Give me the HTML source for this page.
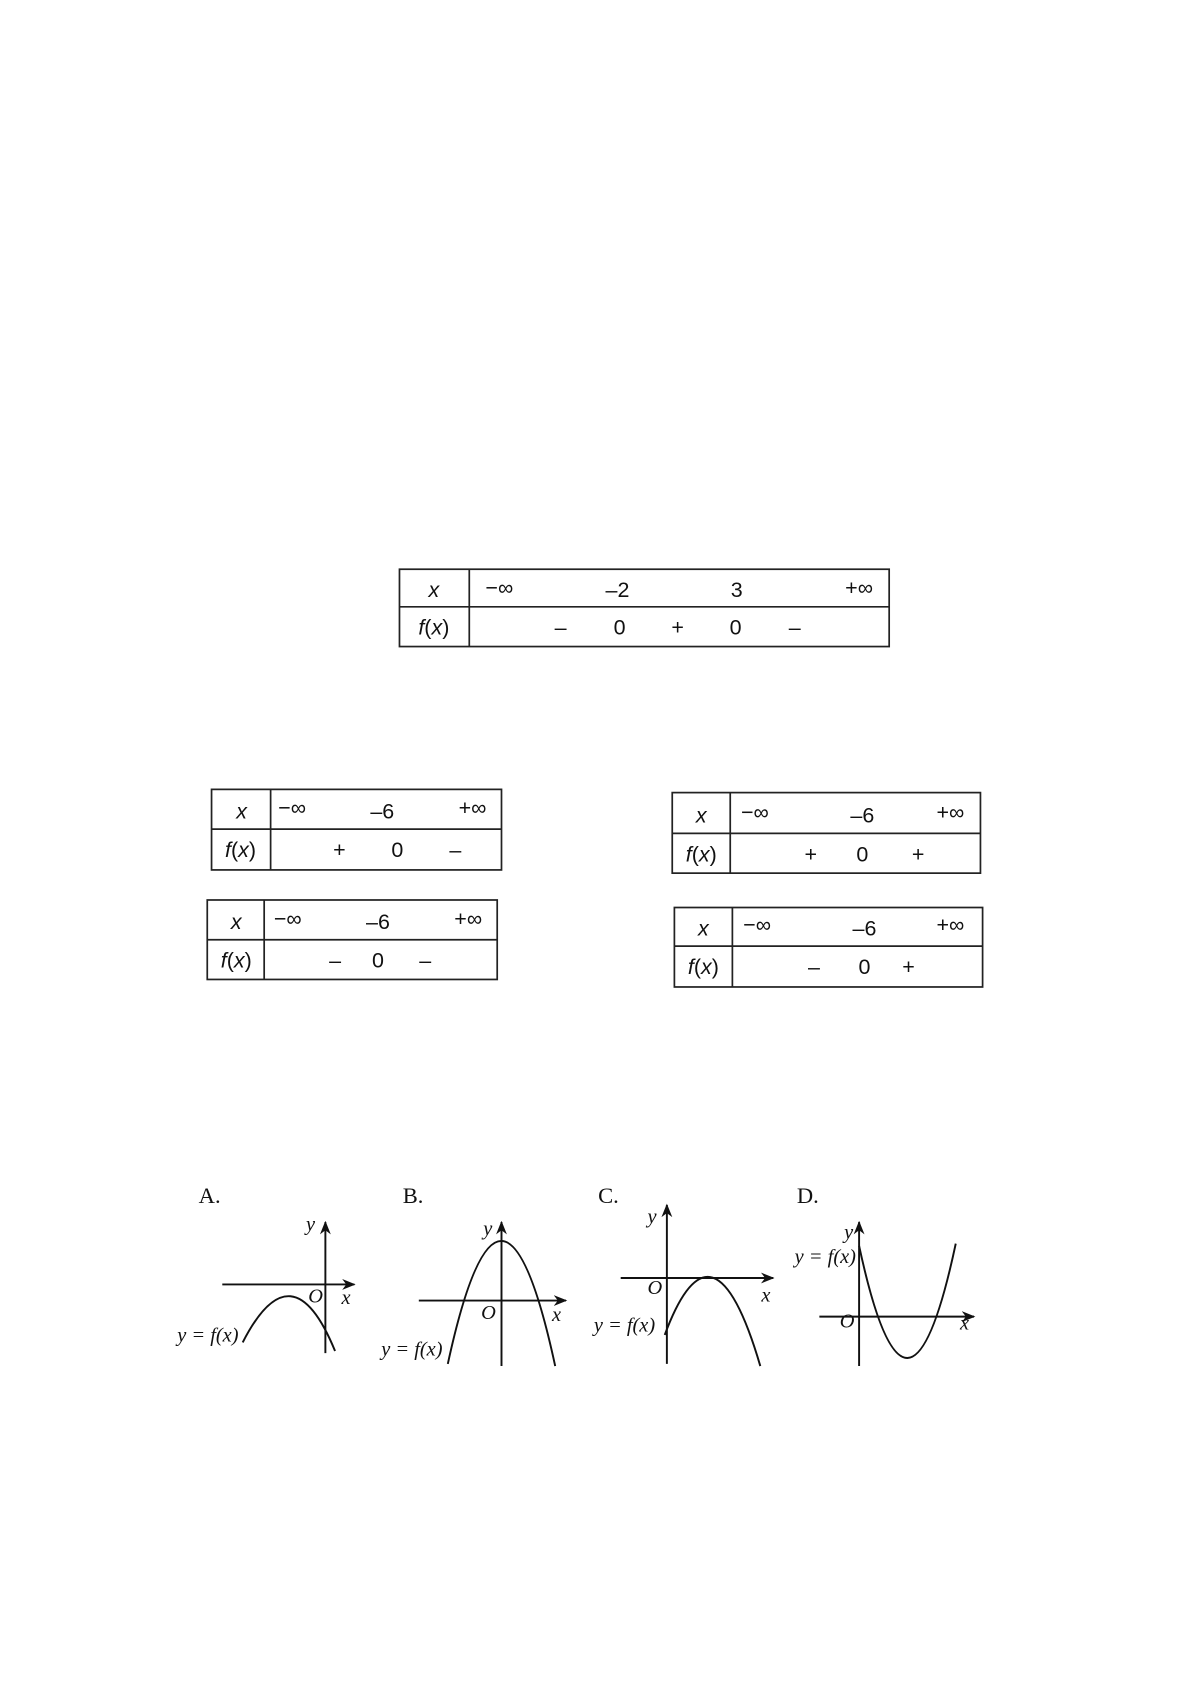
<!DOCTYPE html>
<html><head><meta charset="utf-8"><style>
html,body{margin:0;padding:0;background:#fff;}
svg{display:block}
.t{font-family:"Liberation Sans",sans-serif;font-size:20px;fill:#111;text-anchor:middle}
.i{font-style:italic}
.s{font-family:"Liberation Serif",serif;font-size:19px;fill:#111}
.l{font-family:"Liberation Serif",serif;font-size:21px;fill:#111}
</style></head><body>
<svg width="1192" height="1684" viewBox="0 0 1110 1568" xmlns="http://www.w3.org/2000/svg">
<defs><marker id="ar" viewBox="0 0 10 10" refX="9" refY="5" markerWidth="7" markerHeight="7" orient="auto"><path d="M0,1 L10,5 L0,9 L3,5 z" fill="#111"/></marker></defs>
<g fill="none" stroke="#222" stroke-width="1.6">
<rect x="372" y="530" width="456" height="72"/><line x1="372" y1="565" x2="828" y2="565"/><line x1="437" y1="530" x2="437" y2="602"/>
<rect x="197" y="735" width="270" height="75"/><line x1="197" y1="772" x2="467" y2="772"/><line x1="252" y1="735" x2="252" y2="810"/>
<rect x="626" y="738" width="287" height="75"/><line x1="626" y1="776" x2="913" y2="776"/><line x1="680" y1="738" x2="680" y2="813"/>
<rect x="193" y="838" width="270" height="74"/><line x1="193" y1="875" x2="463" y2="875"/><line x1="246" y1="838" x2="246" y2="912"/>
<rect x="628" y="845" width="287" height="74"/><line x1="628" y1="881" x2="915" y2="881"/><line x1="682" y1="845" x2="682" y2="919"/>
</g>
<g class="t">
<text x="404" y="556" class="i">x</text><text x="465" y="554">−∞</text><text x="575" y="556">–2</text><text x="686" y="556">3</text><text x="800" y="554">+∞</text>
<text x="404" y="591"><tspan class="i">f</tspan>(<tspan class="i">x</tspan>)</text><text x="522" y="591">–</text><text x="577" y="591">0</text><text x="631" y="591">+</text><text x="685" y="591">0</text><text x="740" y="591">–</text>

<text x="225" y="762" class="i">x</text><text x="272" y="759">−∞</text><text x="356" y="762">–6</text><text x="440" y="759">+∞</text>
<text x="224" y="798"><tspan class="i">f</tspan>(<tspan class="i">x</tspan>)</text><text x="316" y="798">+</text><text x="370" y="798">0</text><text x="424" y="798">–</text>

<text x="653" y="766" class="i">x</text><text x="703" y="763">−∞</text><text x="803" y="766">–6</text><text x="885" y="763">+∞</text>
<text x="653" y="802"><tspan class="i">f</tspan>(<tspan class="i">x</tspan>)</text><text x="755" y="802">+</text><text x="803" y="802">0</text><text x="855" y="802">+</text>

<text x="220" y="865" class="i">x</text><text x="268" y="862">−∞</text><text x="352" y="865">–6</text><text x="436" y="862">+∞</text>
<text x="220" y="901"><tspan class="i">f</tspan>(<tspan class="i">x</tspan>)</text><text x="312" y="901">–</text><text x="352" y="901">0</text><text x="396" y="901">–</text>

<text x="655" y="871" class="i">x</text><text x="705" y="868">−∞</text><text x="805" y="871">–6</text><text x="885" y="868">+∞</text>
<text x="655" y="907"><tspan class="i">f</tspan>(<tspan class="i">x</tspan>)</text><text x="758" y="907">–</text><text x="805" y="907">0</text><text x="846" y="907">+</text>
</g>
<g class="l"><text x="185" y="1120">A.</text><text x="375" y="1120">B.</text><text x="557" y="1120">C.</text><text x="742" y="1120">D.</text></g>
<g fill="none" stroke="#111" stroke-width="1.8">
<line x1="303" y1="1260" x2="303" y2="1138" marker-end="url(#ar)"/><line x1="207" y1="1196" x2="330" y2="1196" marker-end="url(#ar)"/>
<path d="M226,1250 Q272,1160 312,1258"/>
<line x1="467" y1="1272" x2="467" y2="1138" marker-end="url(#ar)"/><line x1="390" y1="1211" x2="527" y2="1211" marker-end="url(#ar)"/>
<path d="M417,1270 Q467,1040 517,1272"/>
<line x1="621" y1="1270" x2="621" y2="1122" marker-end="url(#ar)"/><line x1="578" y1="1190" x2="720" y2="1190" marker-end="url(#ar)"/>
<path d="M619,1243 Q664,1122 708,1272"/>
<line x1="800" y1="1272" x2="800" y2="1138" marker-end="url(#ar)"/><line x1="763" y1="1226" x2="907" y2="1226" marker-end="url(#ar)"/>
<path d="M800,1160 Q845,1370 890,1158"/>
</g>
<g class="s" font-style="italic">
<text x="285" y="1146">y</text><text x="287" y="1213">O</text><text x="318" y="1214">x</text><text x="165" y="1249">y = f(x)</text>
<text x="450" y="1150">y</text><text x="448" y="1228">O</text><text x="514" y="1230">x</text><text x="355" y="1262">y = f(x)</text>
<text x="603" y="1139">y</text><text x="603" y="1205">O</text><text x="709" y="1212">x</text><text x="553" y="1240">y = f(x)</text>
<text x="786" y="1153">y</text><text x="782" y="1236">O</text><text x="894" y="1238">x</text><text x="740" y="1176">y = f(x)</text>
</g>
</svg>
</body></html>
